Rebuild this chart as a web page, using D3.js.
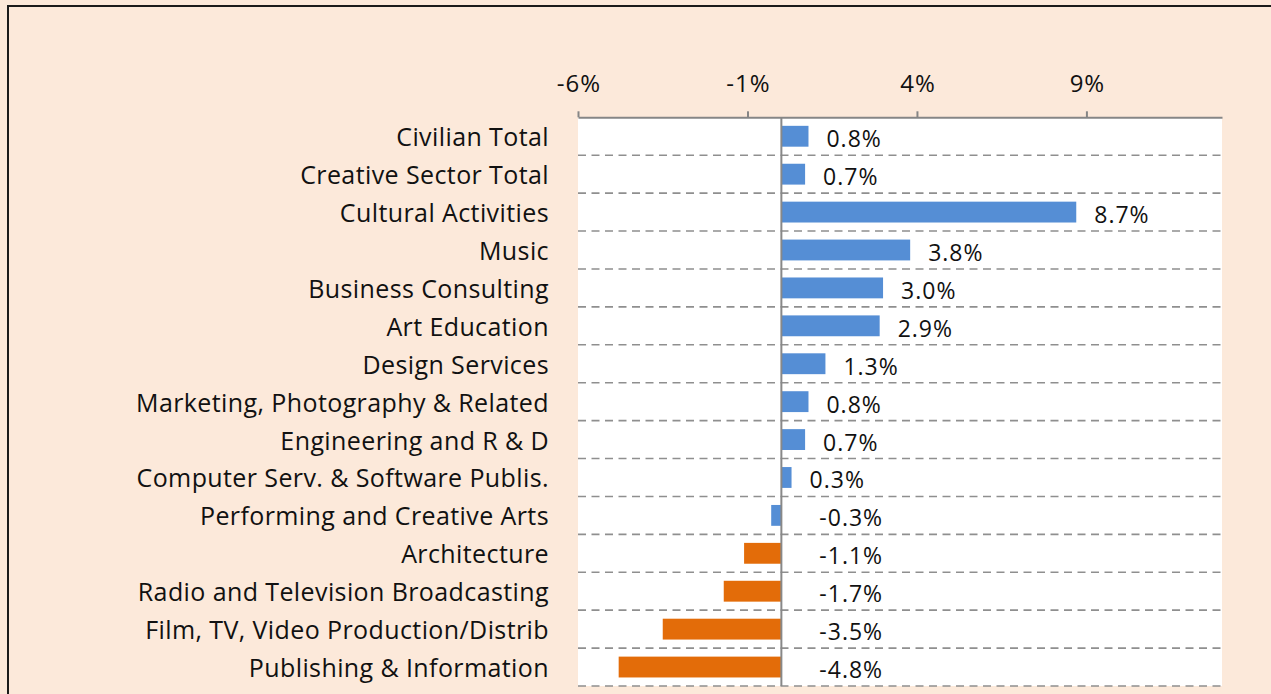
<!DOCTYPE html>
<html>
<head>
<meta charset="utf-8">
<script src="https://d3js.org/d3.v7.min.js"></script>
<style>
  body { margin: 0; background: #fce9da; }
  text { font-family: "Open Sans", sans-serif; fill: #111; }
</style>
</head>
<body>
<svg id="chart" width="1271" height="694"></svg>
<script>
const categories = [
  'Civilian Total', 'Creative Sector Total', 'Cultural Activities', 'Music',
  'Business Consulting', 'Art Education', 'Design Services',
  'Marketing, Photography & Related', 'Engineering and R & D',
  'Computer Serv. & Software Publis.', 'Performing and Creative Arts',
  'Architecture', 'Radio and Television Broadcasting',
  'Film, TV, Video Production/Distrib', 'Publishing & Information'
];
const values = [0.8, 0.7, 8.7, 3.8, 3.0, 2.9, 1.3, 0.8, 0.7, 0.3, -0.3, -1.1, -1.7, -3.5, -4.8];
// these get the orange colour in the original
const highlighted = ['Architecture', 'Radio and Television Broadcasting',
  'Film, TV, Video Production/Distrib', 'Publishing & Information'];
const tickValues = [-6, -1, 4, 9];

const svg = d3.select('svg#chart');
const plotL = 578, plotR = 1222, plotT = 117.3, plotB = 686;

svg.append('rect').attr('width', 1271).attr('height', 694).attr('fill', '#fce9da');
svg.append('rect').attr('x', 8).attr('y', 6).attr('width', 1400).attr('height', 900)
  .attr('fill', 'none').attr('stroke', '#1b1b1b').attr('stroke-width', 2);

const x = d3.scaleLinear().domain([-6, 13]).range([plotL, plotR]);
const y = d3.scaleBand().domain(categories).range([plotT, plotB])
  .paddingInner(0.45).paddingOuter(0.225);
const step = y.step();

svg.append('rect').attr('x', plotL).attr('y', plotT)
  .attr('width', plotR - plotL).attr('height', plotB - plotT).attr('fill', '#fff');

// dashed row separators
svg.append('g').selectAll('line').data(categories)
  .join('line')
  .attr('x1', plotL).attr('x2', plotR)
  .attr('y1', d => y(d) - step * 0.225 + step).attr('y2', d => y(d) - step * 0.225 + step)
  .attr('stroke', '#8f8f8f').attr('stroke-width', 1.6).attr('stroke-dasharray', '8,5.5');

// bars
const data = categories.map((c, i) => ({ cat: c, v: values[i] }));
svg.append('g').selectAll('rect').data(data)
  .join('rect')
  .attr('x', d => x(Math.min(0, d.v)))
  .attr('y', d => y(d.cat))
  .attr('width', d => Math.abs(x(d.v) - x(0)))
  .attr('height', y.bandwidth())
  .attr('fill', d => highlighted.includes(d.cat) ? '#e36c09' : '#558ed5');

// zero line
svg.append('line').attr('x1', x(0)).attr('x2', x(0)).attr('y1', plotT).attr('y2', plotB)
  .attr('stroke', '#888').attr('stroke-width', 2);

// top axis
const axis = svg.append('g').attr('transform', `translate(0,${plotT})`)
  .call(d3.axisTop(x).tickValues(tickValues).tickFormat(d => d + '%')
    .tickSize(6).tickSizeOuter(0).tickPadding(19));
axis.select('.domain').attr('stroke', '#868686').attr('stroke-width', 2);
axis.selectAll('.tick line').attr('stroke', '#868686').attr('stroke-width', 2);
axis.selectAll('.tick text').style('font-family', '"Open Sans", sans-serif')
  .style('font-size', '24px').style('letter-spacing', '1px')
  .attr('fill', '#111').attr('dx', 0.5);

// category labels
svg.append('g').selectAll('text').data(categories)
  .join('text')
  .attr('x', 549)
  .attr('y', d => y(d) + y.bandwidth() / 2 + 10)
  .attr('text-anchor', 'end')
  .style('font-size', '25px')
  .style('letter-spacing', '0.4px')
  .text(d => d);

// value labels
svg.append('g').selectAll('text').data(data)
  .join('text')
  .attr('x', d => d.v >= 0 ? x(d.v) + 18 : x(0) + 38)
  .attr('y', d => y(d.cat) + y.bandwidth() / 2 + 11)
  .style('font-size', '23px')
  .style('letter-spacing', '1px')
  .text(d => d.v.toFixed(1) + '%');
</script>
</body>
</html>
